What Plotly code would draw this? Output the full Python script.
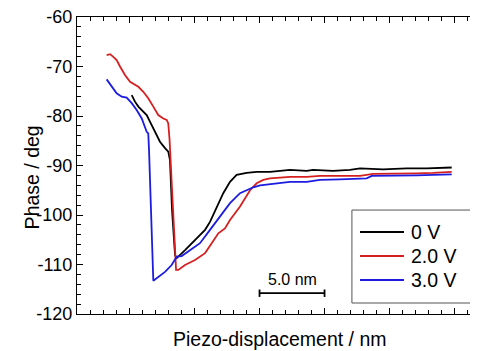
import plotly.graph_objects as go

# ---- data (piezo displacement in nm, phase in deg) ----
x_0v = [4.21, 4.46, 4.72, 5.10, 5.36, 5.62, 5.87, 6.13, 6.38, 6.77, 7.02, 7.15, 7.31, 7.54, 7.67,
        8.31, 9.08, 9.85, 10.23, 10.75, 11.25, 11.77, 12.28, 13.05, 13.82, 14.85, 16.38, 17.67,
        18.15, 19.69, 21.0, 21.77, 23.54, 25.36, 26.9, 28.82]
y_0v = [-75.8, -77.1, -78.1, -79.1, -79.8, -81.2, -82.5, -83.8, -85.2, -86.5, -87.2, -88.9, -99.0,
        -108.1, -108.7, -107.1, -105.1, -103.0, -101.4, -98.3, -95.6, -93.3, -91.9, -91.5, -91.3,
        -91.3, -90.9, -91.1, -90.9, -91.1, -90.9, -90.6, -90.8, -90.6, -90.6, -90.4]

x_2v = [2.28, 2.54, 2.77, 3.05, 3.31, 3.69, 4.08, 4.46, 4.72, 5.10, 5.48, 5.87, 6.25, 6.64, 6.90,
        7.02, 7.12, 7.35, 7.54, 7.62, 7.79, 8.31, 9.08, 9.85, 10.36, 10.87, 11.38, 11.77, 12.54,
        13.31, 13.82, 14.33, 14.85, 15.62, 16.38, 17.67, 18.69, 20.23, 21.77, 22.77, 24.31, 26.13,
        27.38, 28.82]
y_2v = [-67.7, -67.5, -68.0, -68.7, -70.0, -71.7, -73.1, -73.7, -74.1, -75.1, -76.4, -78.1, -79.8,
        -80.5, -80.8, -81.5, -84.8, -97.0, -109.5, -111.1, -111.1, -110.1, -109.1, -107.7, -105.7,
        -103.7, -102.7, -101.0, -98.3, -95.0, -93.6, -92.9, -92.6, -92.4, -92.3, -92.3, -92.1,
        -92.1, -92.1, -91.7, -91.7, -91.6, -91.5, -91.3]

x_3v = [2.28, 2.67, 3.05, 3.44, 3.82, 4.21, 4.59, 4.98, 5.23, 5.36, 5.48, 5.54, 5.87, 6.77, 7.28,
        7.67, 8.05, 8.69, 9.46, 10.23, 11.0, 11.77, 12.54, 13.05, 13.56, 14.08, 14.85, 16.38,
        17.67, 18.69, 20.23, 22.28, 22.67, 24.31, 26.13, 27.38, 28.82]
y_3v = [-72.6, -74.1, -75.4, -76.1, -76.3, -77.4, -78.8, -80.5, -82.4, -83.2, -83.5, -86.9, -113.3,
        -111.5, -110.1, -108.4, -108.3, -107.2, -105.7, -103.0, -100.2, -97.6, -95.6, -95.0, -94.4,
        -94.0, -93.8, -93.3, -93.3, -92.9, -92.8, -92.6, -92.1, -92.1, -92.0, -91.9, -91.8]

series_names = ["0 V", "2.0 V", "3.0 V"]
series_colors = ["#000000", "#d62020", "#1c1ce0"]

y_ticks = [-60, -70, -80, -90, -100, -110, -120]
x_range = [0, 30.69]
y_range = [-120, -60]

# scale bar (5.0 nm)
scale_x = [14.04, 19.04]
scale_y = -115.8
scale_label = "5.0 nm"

FONT = "Arial, Liberation Sans, sans-serif"

fig = go.Figure()
for xs, ys, name, col in zip([x_0v, x_2v, x_3v], [y_0v, y_2v, y_3v], series_names, series_colors):
    fig.add_trace(go.Scatter(x=xs, y=ys, mode="lines", name=name, showlegend=False,
                             line=dict(color=col, width=1.8)))

# scale bar drawn in data coordinates
fig.add_shape(type="line", x0=scale_x[0], x1=scale_x[1], y0=scale_y, y1=scale_y,
              line=dict(color="black", width=1.8))
for sx in scale_x:
    fig.add_shape(type="line", x0=sx, x1=sx, y0=scale_y - 0.75, y1=scale_y + 0.75,
                  line=dict(color="black", width=1.8))
fig.add_annotation(x=(scale_x[0] + scale_x[1]) / 2, y=scale_y, yshift=14, text=scale_label,
                   showarrow=False, font=dict(family=FONT, size=16, color="black"))

# legend box (boxed key in the lower right of the plot)
leg_x0, leg_x1, leg_y0, leg_y1 = 0.689, 0.9925, 0.037, 0.350
fig.add_shape(type="rect", xref="paper", yref="paper", x0=leg_x0, x1=leg_x1, y0=leg_y0, y1=leg_y1,
              line=dict(color="#555555", width=1), fillcolor="white", layer="above")
leg_rows = [0.2761, 0.1953, 0.1145]
for name, col, ly in zip(series_names, series_colors, leg_rows):
    fig.add_shape(type="line", xref="paper", yref="paper", x0=0.7093, x1=0.8195, y0=ly, y1=ly,
                  line=dict(color=col, width=1.8), layer="above")
    fig.add_annotation(xref="paper", yref="paper", x=0.8321, y=ly, xanchor="left",
                       yanchor="middle", text=name, showarrow=False,
                       font=dict(family=FONT, size=19.5, color="black"))

# axis titles
fig.add_annotation(xref="paper", yref="paper", x=0.51, y=0, yshift=-25, yanchor="middle",
                   text="Piezo-displacement / nm", showarrow=False,
                   font=dict(family=FONT, size=19.5, color="black"))
fig.add_annotation(xref="paper", yref="paper", x=0, xshift=-58, y=0.46, textangle=-90,
                   text="Phase / deg", showarrow=False,
                   font=dict(family=FONT, size=19.5, color="black"))

axis_common = dict(showline=True, linecolor="black", linewidth=1.2, mirror="allticks",
                   ticks="inside", tickcolor="black", ticklen=6, tickwidth=1.1,
                   showgrid=False, zeroline=False, automargin=False)

fig.update_xaxes(range=x_range, tick0=4.04, dtick=5, showticklabels=False,
                 minor=dict(tick0=4.04, dtick=1, ticks="inside", ticklen=3.5,
                            tickcolor="black", tickwidth=1, showgrid=False),
                 **axis_common)
fig.update_yaxes(range=y_range, tickvals=y_ticks, ticktext=[str(v) for v in y_ticks],
                 tickfont=dict(family=FONT, size=18, color="black"),
                 ticklabeloverflow="allow",
                 minor=dict(dtick=2, ticks="inside", ticklen=3.5,
                            tickcolor="black", tickwidth=1, showgrid=False),
                 **axis_common)

# the page adds an 8 px body margin, so the figure is sized 8 px smaller
fig.update_layout(
    width=470, height=343,
    margin=dict(l=69, r=2, t=9, b=37),
    paper_bgcolor="white", plot_bgcolor="white",
    font=dict(family=FONT, color="black"),
    showlegend=False,
)

fig.write_html("out.html")
